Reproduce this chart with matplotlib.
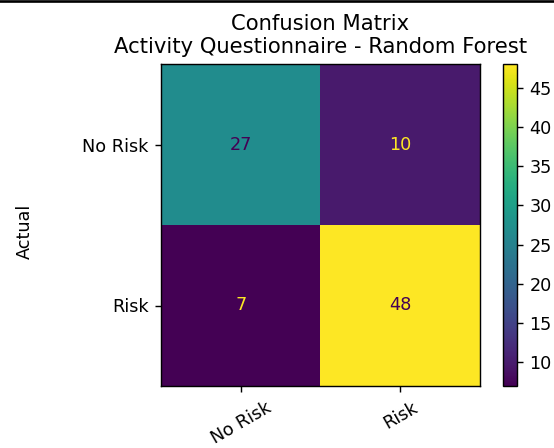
import numpy as np
import matplotlib
matplotlib.use("Agg")
import matplotlib.pyplot as plt
from matplotlib.lines import Line2D

# Confusion matrix counts (rows: actual, columns: predicted)
class_labels = ["No Risk", "Risk"]
counts_no_risk = [27, 10]
counts_risk = [7, 48]
cbar_ticks = [10, 15, 20, 25, 30, 35, 40, 45]

cm = np.array([counts_no_risk, counts_risk])

DPI = 127
W, H = 554, 448
fig = plt.figure(figsize=(W / DPI, H / DPI), dpi=DPI)
ax = fig.add_axes([161 / W, 1 - 386 / H, 319 / W, 322 / H])
cax = fig.add_axes([503 / W, 1 - 386 / H, 14 / W, 322 / H])

cmap = plt.get_cmap("viridis")
im = ax.imshow(cm, cmap=cmap, aspect="auto")
cb = fig.colorbar(im, cax=cax, ticks=cbar_ticks)
cb.ax.tick_params(labelsize=10)

light = cmap(1.0)
dark = cmap(0.0)
for i in range(cm.shape[0]):
    for j in range(cm.shape[1]):
        v = cm[i, j]
        color = dark if v >= 27 else light
        ax.text(j, i, str(v), ha="center", va="center", color=color, fontsize=10)

ax.set_xticks(range(len(class_labels)))
ax.set_yticks(range(len(class_labels)))
ax.set_xticklabels(class_labels, rotation=30, fontsize=10)
ax.set_yticklabels(class_labels, fontsize=10)
ax.set_ylabel("Actual", fontsize=10)
ax.yaxis.set_label_coords(-0.40, 0.48)
ax.set_title("Confusion Matrix\nActivity Questionnaire - Random Forest",
             fontsize=12)

# thin black rule along the top edge
fig.add_artist(Line2D([0, 1], [0.998, 0.998], transform=fig.transFigure,
                      color="black", linewidth=1.5))

fig.savefig("out.png", dpi=DPI)
